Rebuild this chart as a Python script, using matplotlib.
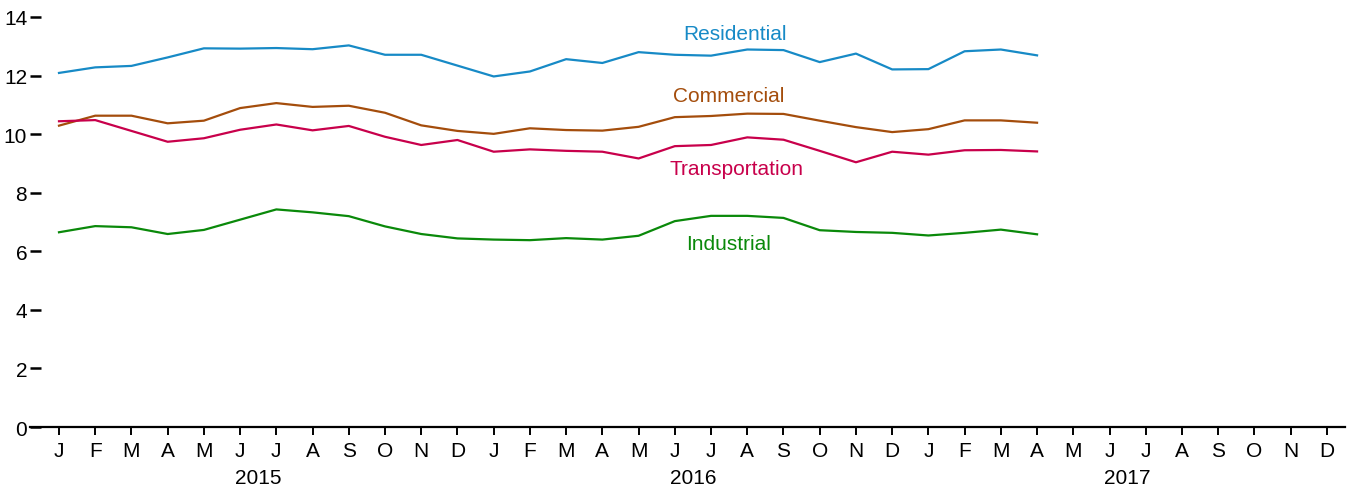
import matplotlib
matplotlib.use("Agg")
import matplotlib.pyplot as plt
import numpy as np

plt.rcParams["font.family"] = ["Liberation Sans", "DejaVu Sans"]

## monthly values, Jan 2015 .. Apr 2017
residential = [12.09, 12.28, 12.33, 12.62, 12.93, 12.92, 12.94, 12.90, 13.03, 12.71,
               12.71, 12.34, 11.97, 12.14, 12.56, 12.43, 12.80, 12.71, 12.68, 12.89,
               12.87, 12.46, 12.75, 12.21, 12.22, 12.83, 12.89, 12.69]
commercial = [10.29, 10.63, 10.63, 10.37, 10.46, 10.89, 11.06, 10.93, 10.97, 10.73,
              10.30, 10.11, 10.01, 10.20, 10.14, 10.12, 10.25, 10.58, 10.62, 10.70,
              10.69, 10.46, 10.24, 10.07, 10.17, 10.47, 10.47, 10.39]
transportation = [10.44, 10.48, 10.11, 9.74, 9.86, 10.15, 10.33, 10.13, 10.28, 9.91,
                  9.63, 9.80, 9.40, 9.48, 9.43, 9.40, 9.17, 9.59, 9.63, 9.89,
                  9.81, 9.43, 9.04, 9.40, 9.30, 9.45, 9.46, 9.41]
industrial = [6.65, 6.86, 6.82, 6.59, 6.73, 7.08, 7.43, 7.33, 7.20, 6.85,
              6.59, 6.44, 6.40, 6.38, 6.45, 6.40, 6.53, 7.03, 7.21, 7.21,
              7.14, 6.72, 6.66, 6.63, 6.54, 6.63, 6.74, 6.58]

month_letters = ["J", "F", "M", "A", "M", "J", "J", "A", "S", "O", "N", "D"]
years = ["2015", "2016", "2017"]

series = [
    ("Residential", residential, "#178ac6", 18.66, 13.45),
    ("Commercial", commercial, "#a44d0c", 18.49, 11.33),
    ("Transportation", transportation, "#c8004b", 18.69, 8.84),
    ("Industrial", industrial, "#0a890a", 18.49, 6.25),
]

fs = 15

fig = plt.figure(figsize=(13.52, 4.89), dpi=100)
ax = fig.add_axes([0.0222, 0.1247, 0.9726, 0.8385])

for name, vals, col, lx, ly in series:
    ax.plot(np.arange(len(vals)), vals, color=col, lw=1.6)
    ax.text(lx, ly, name, color=col, fontsize=fs, ha="center", va="center")

n_months = 12 * len(years)
ax.set_xlim(-0.8, 35.5)
ax.set_ylim(0, 14)
ax.set_xticks(range(n_months))
ax.set_xticklabels(month_letters * len(years), fontsize=fs)
ax.set_yticks(range(0, 15, 2))
ax.set_yticklabels([str(v) for v in range(0, 15, 2)], fontsize=fs)

ax.tick_params(axis="x", direction="out", length=5.8, width=1.4, pad=4)
ax.tick_params(axis="y", direction="in", length=7.9, width=1.8, pad=2)

for s in ["top", "right", "left"]:
    ax.spines[s].set_visible(False)
ax.spines["bottom"].set_linewidth(1.6)

for k, yr in enumerate(years):
    ax.annotate(yr, xy=(12 * k + 5.5, 0), xycoords=("data", "axes fraction"),
                xytext=(0, -36), textcoords="offset points",
                ha="center", va="center", fontsize=fs)

fig.savefig("out.png", dpi=100)
